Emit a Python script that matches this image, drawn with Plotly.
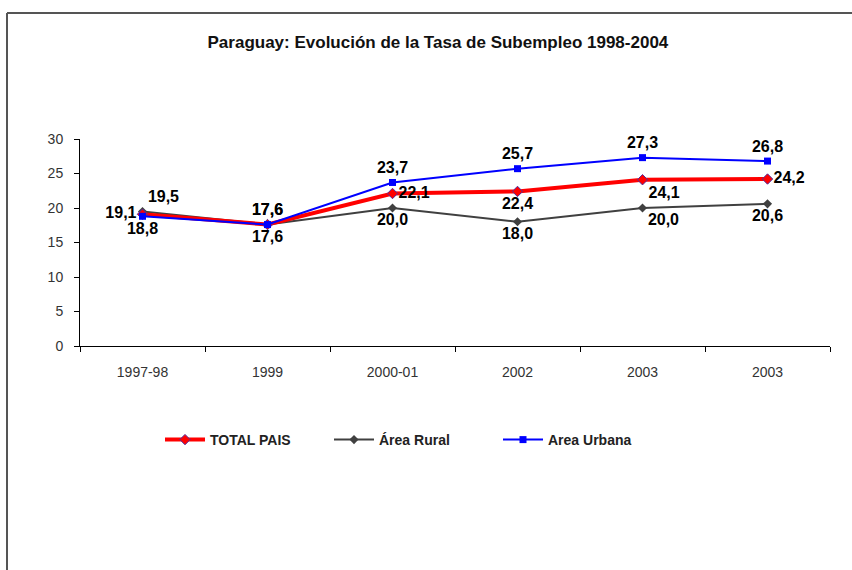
import plotly.graph_objects as go

# periodos (the last two both read "2003" in the original)
periodos = ["1997-98", "1999", "2000-01", "2002", "2003", "2003"]
total_pais = [19.1, 17.6, 22.1, 22.4, 24.1, 24.2]
area_rural = [19.5, 17.6, 20.0, 18.0, 20.0, 20.6]
area_urbana = [18.8, 17.6, 23.7, 25.7, 27.3, 26.8]

x = list(range(len(periodos)))

def fmt(vals):
    return [f"{v:.1f}".replace(".", ",") for v in vals]

lbl_font = dict(family="Liberation Sans, Arial", size=16, color="black", weight="bold")

fig = go.Figure()

fig.add_trace(go.Scatter(
    x=x, y=area_rural, name="Área Rural", mode="lines+markers+text",
    line=dict(color="#404040", width=2),
    marker=dict(symbol="diamond", size=7, color="#404040"),
    text=fmt(area_rural),
    textposition=["top right", "bottom center", "bottom center", "bottom center", "bottom right", "bottom center"],
    textfont=lbl_font, legendrank=2, cliponaxis=False,
))
fig.add_trace(go.Scatter(
    x=x, y=total_pais, name="TOTAL PAIS", mode="lines+markers+text",
    line=dict(color="#ff0000", width=4),
    marker=dict(symbol="diamond", size=8, color="#ff0000", line=dict(color="#5030a0", width=1)),
    text=fmt(total_pais),
    textposition=["middle left", "top center", "middle right", "bottom center", "bottom right", "middle right"],
    textfont=lbl_font, legendrank=1, cliponaxis=False,
))
fig.add_trace(go.Scatter(
    x=x, y=area_urbana, name="Area Urbana", mode="lines+markers+text",
    line=dict(color="#0000ff", width=2),
    marker=dict(symbol="square", size=7, color="#0000ff"),
    text=fmt(area_urbana),
    textposition=["bottom center", "top center", "top center", "top center", "top center", "top center"],
    textfont=lbl_font, legendrank=3, cliponaxis=False,
))

# frame around the chart area (pixel-based, converted to paper coords)
L, R, T, B = 80, 22, 139, 224
pw, ph = 852 - L - R, 570 - T - B
px = lambda p: (p - L) / pw
py = lambda p: (570 - B - p) / ph
fig.add_shape(type="line", xref="paper", yref="paper", x0=px(7), x1=px(7), y0=py(575), y1=py(13),
              line=dict(color="#555555", width=2))
fig.add_shape(type="line", xref="paper", yref="paper", x0=px(7), x1=px(860), y0=py(13), y1=py(13),
              line=dict(color="#555555", width=2))

tick_font = dict(family="Liberation Sans, Arial", size=14, color="#333333")

fig.update_layout(
    width=852, height=570,
    margin=dict(l=L, r=R, t=T, b=B),
    paper_bgcolor="white", plot_bgcolor="white",
    title=dict(text="<b>Paraguay: Evolución de la Tasa de Subempleo 1998-2004</b>",
               font=dict(family="Liberation Sans, Arial", size=17, color="#111111"),
               xref="container", x=0.514, xanchor="center",
               yref="container", y=1 - 42 / 570, yanchor="middle"),
    showlegend=True,
    legend=dict(orientation="h", x=px(160), xanchor="left", y=py(440), yanchor="middle",
                font=dict(family="Liberation Sans, Arial", size=14, color="#222222", weight="bold"),
                itemwidth=40, entrywidth=114, tracegroupgap=0),
    xaxis=dict(range=[-0.5, 5.5], tickmode="array", tickvals=x, ticktext=periodos,
               showgrid=False, zeroline=False, showline=True, linecolor="black", linewidth=1,
               ticks="outside", ticklen=5, tickcolor="rgba(0,0,0,0)", ticklabelstandoff=8,
               tickfont=tick_font,
               minor=dict(tickmode="linear", tick0=-0.5, dtick=1, ticks="outside", ticklen=5,
                          tickcolor="black", showgrid=False)),
    yaxis=dict(range=[0, 30], tickmode="linear", tick0=0, dtick=5,
               showgrid=False, zeroline=False, showline=True, linecolor="black", linewidth=1,
               ticks="outside", ticklen=5, tickcolor="black", ticklabelstandoff=8,
               tickfont=tick_font),
)

fig.write_html("out.html", config={"displayModeBar": False},
               post_script="document.body.style.margin='0px';")
